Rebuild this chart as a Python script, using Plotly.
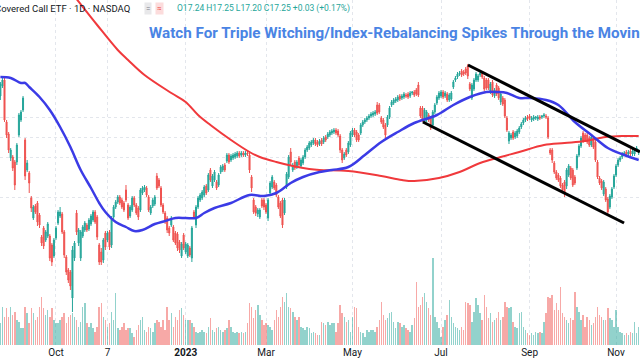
import plotly.graph_objects as go

opens = [17.79, 17.89, 17.95, 17.53, 17.41, 17.17, 17.18, 17.13, 17.13, 17.40,
         17.55, 17.65, 17.35, 17.05, 17.02, 16.77, 16.57, 16.69, 16.72, 16.60,
         16.38, 16.47, 16.35, 16.39, 16.39, 16.30, 16.19, 16.37, 16.52, 16.59,
         16.61, 16.43, 16.18, 16.05, 16.03, 15.77, 16.17, 16.62, 16.32, 16.17,
         16.39, 16.45, 16.50, 16.46, 16.51, 16.55, 16.63, 16.58, 16.30, 16.23,
         16.15, 16.42, 16.35, 16.43, 16.30, 16.58, 16.68, 16.73, 16.78, 16.75,
         16.72, 16.85, 16.70, 16.59, 16.65, 16.77, 16.70, 16.67, 16.65, 16.82,
         16.85, 16.87, 16.78, 16.62, 16.69, 16.71, 16.99, 16.95, 16.87, 16.70,
         16.62, 16.57, 16.47, 16.50, 16.48, 16.42, 16.41, 16.33, 16.19, 16.40,
         16.23, 16.19, 16.27, 16.17, 16.63, 16.50, 16.68, 16.75, 16.77, 16.80,
         16.89, 16.85, 17.05, 16.89, 16.95, 16.93, 16.90, 17.03, 17.05, 17.10,
         17.14, 17.20, 17.15, 17.17, 17.18, 17.19, 17.22, 17.20, 17.22, 17.20,
         17.22, 17.20, 16.98, 16.75, 16.68, 16.61, 16.58, 16.75, 16.75, 16.70,
         16.57, 16.82, 16.88, 16.93, 16.90, 16.78, 16.72, 16.75, 16.62, 16.88,
         16.98, 17.23, 17.05, 17.13, 17.08, 17.17, 17.09, 17.12, 17.18, 17.25,
         17.27, 17.30, 17.32, 17.35, 17.33, 17.31, 17.35, 17.33, 17.38, 17.38,
         17.40, 17.42, 17.43, 17.45, 17.44, 17.39, 17.25, 17.17, 17.25, 17.23,
         17.30, 17.40, 17.45, 17.43, 17.40, 17.42, 17.50, 17.53, 17.55, 17.57,
         17.59, 17.60, 17.61, 17.70, 17.70, 17.57, 17.55, 17.50, 17.50, 17.58,
         17.70, 17.72, 17.74, 17.75, 17.79, 17.77, 17.78, 17.80, 17.81, 17.79,
         17.82, 17.83, 17.85, 17.90, 17.67, 17.67, 17.53, 17.55, 17.60, 17.57,
         17.50, 17.63, 17.72, 17.77, 17.79, 17.83, 17.79, 17.81, 17.75, 17.76,
         17.88, 17.95, 17.98, 18.01, 18.04, 18.03, 18.06, 18.09, 17.91, 17.77,
         17.86, 17.95, 17.95, 18.00, 18.02, 17.97, 17.95, 17.95, 17.83, 17.93,
         17.79, 17.90, 17.87, 17.73, 17.77, 17.75, 17.57, 17.34, 17.37, 17.43,
         17.38, 17.39, 17.43, 17.48, 17.52, 17.55, 17.58, 17.59, 17.55, 17.56,
         17.57, 17.56, 17.58, 17.58, 17.59, 17.59, 17.57, 17.25, 17.25, 17.12,
         17.03, 17.00, 16.97, 16.90, 16.93, 16.89, 17.00, 17.07, 17.05, 16.98,
         17.07, 17.20, 17.29, 17.42, 17.40, 17.40, 17.37, 17.30, 17.37, 17.33,
         17.13, 16.97, 16.94, 16.81, 16.86, 16.76, 16.68, 16.78, 16.88, 17.00,
         17.10, 17.15, 17.18, 17.21, 17.23, 17.21, 17.24, 17.21, 17.21, 17.25, 17.24]

closes = [17.91, 17.95, 17.55, 17.40, 17.25, 17.25, 17.07, 16.90, 17.30, 17.60,
          17.63, 17.77, 16.99, 17.12, 16.92, 16.67, 16.68, 16.63, 16.53, 16.50,
          16.32, 16.29, 16.43, 16.51, 16.17, 16.13, 16.35, 16.47, 16.63, 16.63,
          16.43, 16.20, 16.03, 15.95, 15.89, 16.25, 16.32, 16.43, 16.45, 16.43,
          16.48, 16.52, 16.45, 16.55, 16.59, 16.63, 16.53, 16.38, 16.13, 16.13,
          16.35, 16.28, 16.42, 16.28, 16.57, 16.68, 16.73, 16.78, 16.72, 16.68,
          16.65, 16.75, 16.57, 16.68, 16.77, 16.70, 16.62, 16.58, 16.85, 16.87,
          16.88, 16.80, 16.65, 16.68, 16.75, 16.78, 16.87, 16.89, 16.70, 16.63,
          16.53, 16.45, 16.42, 16.57, 16.35, 16.32, 16.27, 16.25, 16.31, 16.27,
          16.31, 16.30, 16.20, 16.47, 16.58, 16.68, 16.77, 16.80, 16.83, 16.88,
          16.82, 17.00, 16.95, 16.99, 17.03, 16.87, 17.00, 17.08, 17.09, 17.05,
          17.20, 17.13, 17.19, 17.20, 17.21, 17.22, 17.19, 17.22, 17.20, 17.22,
          17.21, 17.05, 16.87, 16.63, 16.62, 16.65, 16.65, 16.69, 16.68, 16.63,
          16.75, 16.92, 16.98, 16.87, 16.80, 16.68, 16.59, 16.50, 16.75, 17.01,
          17.18, 17.13, 17.10, 17.07, 17.13, 17.10, 17.15, 17.18, 17.25, 17.28,
          17.32, 17.33, 17.35, 17.31, 17.30, 17.34, 17.31, 17.37, 17.35, 17.41,
          17.43, 17.44, 17.45, 17.42, 17.40, 17.25, 17.15, 17.21, 17.20, 17.32,
          17.42, 17.45, 17.40, 17.35, 17.35, 17.50, 17.53, 17.55, 17.57, 17.59,
          17.61, 17.62, 17.63, 17.62, 17.63, 17.53, 17.48, 17.40, 17.58, 17.67,
          17.73, 17.75, 17.76, 17.78, 17.76, 17.79, 17.81, 17.79, 17.78, 17.82,
          17.83, 17.80, 17.81, 17.80, 17.59, 17.55, 17.65, 17.63, 17.55, 17.47,
          17.63, 17.70, 17.78, 17.82, 17.83, 17.78, 17.82, 17.75, 17.80, 17.82,
          17.93, 17.97, 18.01, 18.02, 18.00, 18.01, 18.02, 17.99, 17.86, 17.90,
          17.95, 18.01, 17.99, 18.02, 17.98, 17.86, 17.87, 17.87, 17.91, 17.80,
          17.85, 17.81, 17.77, 17.81, 17.71, 17.59, 17.45, 17.42, 17.40, 17.37,
          17.42, 17.44, 17.47, 17.51, 17.55, 17.57, 17.56, 17.57, 17.57, 17.58,
          17.58, 17.58, 17.57, 17.59, 17.60, 17.58, 17.38, 17.22, 17.15, 17.03,
          16.97, 16.95, 16.89, 16.85, 16.81, 17.05, 17.09, 16.97, 16.90, 16.92,
          17.19, 17.29, 17.37, 17.34, 17.35, 17.33, 17.30, 17.38, 17.28, 17.15,
          16.98, 16.92, 16.87, 16.93, 16.75, 16.63, 16.79, 16.86, 16.99, 17.09,
          17.15, 17.17, 17.21, 17.22, 17.20, 17.23, 17.21, 17.24, 17.25, 17.27, 17.25]

highs = [17.93, 17.97, 17.97, 17.55, 17.43, 17.27, 17.20, 17.15, 17.32, 17.62,
         17.65, 17.79, 17.37, 17.15, 17.04, 16.79, 16.70, 16.71, 16.74, 16.62,
         16.40, 16.49, 16.45, 16.53, 16.41, 16.32, 16.37, 16.49, 16.65, 16.68,
         16.63, 16.45, 16.20, 16.07, 16.05, 16.29, 16.34, 16.65, 16.47, 16.45,
         16.50, 16.54, 16.52, 16.57, 16.61, 16.65, 16.65, 16.60, 16.32, 16.27,
         16.37, 16.44, 16.44, 16.45, 16.59, 16.70, 16.75, 16.80, 16.80, 16.77,
         16.74, 16.90, 16.72, 16.70, 16.79, 16.79, 16.72, 16.69, 16.87, 16.89,
         16.90, 16.89, 16.80, 16.70, 16.77, 16.80, 17.02, 16.97, 16.89, 16.72,
         16.64, 16.59, 16.49, 16.59, 16.50, 16.44, 16.43, 16.35, 16.33, 16.42,
         16.33, 16.32, 16.29, 16.49, 16.65, 16.70, 16.79, 16.82, 16.85, 16.90,
         16.91, 17.02, 17.07, 17.01, 17.05, 16.95, 17.02, 17.10, 17.11, 17.12,
         17.22, 17.22, 17.21, 17.22, 17.23, 17.24, 17.24, 17.24, 17.24, 17.24,
         17.24, 17.22, 17.00, 16.77, 16.70, 16.67, 16.67, 16.77, 16.77, 16.72,
         16.77, 16.94, 17.00, 16.95, 16.92, 16.80, 16.74, 16.77, 16.77, 17.03,
         17.20, 17.27, 17.12, 17.15, 17.15, 17.19, 17.17, 17.20, 17.27, 17.30,
         17.34, 17.35, 17.37, 17.37, 17.35, 17.36, 17.37, 17.39, 17.40, 17.43,
         17.45, 17.46, 17.47, 17.47, 17.46, 17.41, 17.27, 17.23, 17.27, 17.34,
         17.44, 17.47, 17.47, 17.45, 17.42, 17.52, 17.55, 17.57, 17.59, 17.61,
         17.63, 17.64, 17.65, 17.73, 17.72, 17.59, 17.57, 17.52, 17.60, 17.69,
         17.75, 17.77, 17.78, 17.80, 17.81, 17.81, 17.83, 17.82, 17.83, 17.84,
         17.84, 17.85, 17.87, 17.93, 17.69, 17.69, 17.67, 17.65, 17.62, 17.59,
         17.65, 17.72, 17.80, 17.84, 17.85, 17.85, 17.84, 17.83, 17.82, 17.84,
         17.95, 17.99, 18.03, 18.04, 18.06, 18.05, 18.08, 18.11, 17.93, 17.92,
         17.97, 18.03, 18.01, 18.04, 18.04, 17.99, 17.97, 17.97, 17.93, 17.95,
         17.87, 17.92, 17.89, 17.83, 17.79, 17.77, 17.59, 17.44, 17.42, 17.45,
         17.44, 17.46, 17.49, 17.53, 17.57, 17.59, 17.60, 17.61, 17.59, 17.60,
         17.59, 17.60, 17.60, 17.60, 17.62, 17.61, 17.59, 17.27, 17.27, 17.14,
         17.05, 17.02, 16.99, 16.92, 16.95, 17.07, 17.11, 17.09, 17.07, 17.00,
         17.21, 17.31, 17.39, 17.44, 17.42, 17.42, 17.39, 17.40, 17.39, 17.35,
         17.15, 16.99, 16.96, 16.95, 16.88, 16.78, 16.81, 16.88, 17.01, 17.11,
         17.17, 17.19, 17.23, 17.24, 17.25, 17.25, 17.26, 17.26, 17.27, 17.29, 17.25]

lows = [17.75, 17.87, 17.53, 17.37, 17.22, 17.14, 17.04, 16.85, 17.10, 17.38,
        17.53, 17.63, 16.95, 17.03, 16.82, 16.63, 16.55, 16.61, 16.49, 16.47,
        16.29, 16.26, 16.33, 16.37, 16.14, 16.09, 16.17, 16.35, 16.50, 16.57,
        16.41, 16.17, 16.00, 15.92, 15.85, 15.63, 16.14, 16.40, 16.29, 16.14,
        16.37, 16.43, 16.43, 16.44, 16.49, 16.53, 16.51, 16.35, 16.10, 16.10,
        16.12, 16.25, 16.33, 16.25, 16.27, 16.56, 16.66, 16.71, 16.70, 16.66,
        16.63, 16.73, 16.55, 16.57, 16.63, 16.68, 16.60, 16.55, 16.63, 16.80,
        16.83, 16.78, 16.63, 16.60, 16.67, 16.69, 16.85, 16.87, 16.68, 16.61,
        16.51, 16.42, 16.39, 16.48, 16.33, 16.30, 16.24, 16.22, 16.17, 16.25,
        16.21, 16.17, 16.18, 16.13, 16.56, 16.47, 16.66, 16.73, 16.75, 16.78,
        16.80, 16.83, 16.93, 16.87, 16.93, 16.85, 16.88, 17.01, 17.03, 17.03,
        17.12, 17.11, 17.13, 17.15, 17.16, 17.17, 17.17, 17.18, 17.18, 17.18,
        17.19, 17.02, 16.83, 16.61, 16.59, 16.58, 16.56, 16.67, 16.65, 16.61,
        16.54, 16.80, 16.86, 16.85, 16.78, 16.66, 16.57, 16.47, 16.60, 16.86,
        16.96, 17.10, 17.03, 17.05, 17.06, 17.08, 17.07, 17.10, 17.16, 17.23,
        17.25, 17.28, 17.30, 17.29, 17.28, 17.29, 17.29, 17.31, 17.33, 17.36,
        17.38, 17.40, 17.41, 17.40, 17.38, 17.22, 17.12, 17.15, 17.18, 17.21,
        17.28, 17.38, 17.38, 17.33, 17.33, 17.40, 17.48, 17.51, 17.53, 17.55,
        17.57, 17.58, 17.59, 17.60, 17.61, 17.51, 17.46, 17.37, 17.48, 17.56,
        17.68, 17.70, 17.72, 17.73, 17.74, 17.75, 17.76, 17.77, 17.76, 17.77,
        17.80, 17.78, 17.79, 17.78, 17.57, 17.53, 17.51, 17.53, 17.53, 17.45,
        17.48, 17.61, 17.70, 17.75, 17.77, 17.76, 17.77, 17.73, 17.73, 17.74,
        17.86, 17.93, 17.96, 17.99, 17.98, 17.99, 18.00, 17.96, 17.84, 17.75,
        17.84, 17.93, 17.93, 17.98, 17.96, 17.84, 17.85, 17.85, 17.81, 17.78,
        17.77, 17.79, 17.75, 17.70, 17.69, 17.57, 17.43, 17.31, 17.35, 17.35,
        17.36, 17.37, 17.41, 17.46, 17.50, 17.53, 17.54, 17.55, 17.53, 17.54,
        17.55, 17.54, 17.55, 17.56, 17.57, 17.56, 17.36, 17.20, 17.12, 17.01,
        16.95, 16.93, 16.87, 16.83, 16.78, 16.86, 16.98, 16.95, 16.88, 16.90,
        17.05, 17.18, 17.27, 17.32, 17.33, 17.31, 17.28, 17.28, 17.26, 17.13,
        16.96, 16.90, 16.85, 16.79, 16.73, 16.61, 16.66, 16.76, 16.86, 16.98,
        17.08, 17.13, 17.16, 17.19, 17.18, 17.19, 17.19, 17.19, 17.19, 17.23, 17.20]

volumes = [2.2, 3.8, 2.8, 3.7, 2.8, 3.8, 3.0, 3.3, 2.5, 2.3,
           1.7, 1.7, 3.8, 3.2, 2.2, 3.7, 3.2, 2.5, 2.8, 3.8,
           4.8, 3.7, 3.0, 3.5, 2.8, 3.7, 2.5, 2.2, 2.2, 2.5,
           2.8, 3.2, 2.2, 2.8, 3.0, 3.2, 2.8, 2.5, 1.8, 2.3,
           3.8, 4.2, 2.2, 1.8, 2.2, 1.7, 1.3, 1.8, 3.8, 4.2,
           2.8, 2.5, 1.8, 2.2, 3.3, 2.5, 5.2, 1.7, 1.5, 1.8,
           2.2, 1.5, 1.7, 1.7, 1.2, 0.8, 1.5, 2.0, 2.5, 2.8,
           1.5, 1.3, 1.8, 1.7, 1.3, 2.2, 2.5, 2.3, 1.8, 2.5,
           1.5, 3.8, 2.5, 3.2, 1.8, 2.8, 2.5, 3.5, 3.7, 3.0,
           2.5, 2.5, 2.5, 2.2, 1.8, 1.3, 1.2, 1.3, 1.5, 1.3,
           1.2, 1.8, 2.7, 1.5, 1.3, 1.7, 1.8, 1.5, 1.3, 1.5,
           1.7, 2.5, 1.8, 1.3, 1.2, 1.3, 1.2, 1.3, 1.2, 1.3,
           2.2, 4.2, 3.8, 2.7, 3.5, 4.0, 3.0, 2.5, 2.0, 2.2,
           2.0, 1.8, 1.5, 2.5, 3.5, 2.8, 3.8, 4.8, 4.3, 5.2,
           3.8, 3.7, 3.3, 2.8, 2.5, 2.8, 1.8, 1.7, 1.5, 1.8,
           1.7, 1.2, 1.3, 1.2, 1.0, 1.0, 2.3, 2.2, 2.0, 2.3,
           2.0, 2.2, 2.2, 1.3, 2.2, 4.0, 3.2, 2.8, 2.3, 2.5,
           1.3, 2.8, 3.8, 3.7, 1.8, 1.3, 1.2, 0.8, 1.5, 1.3,
           1.5, 1.5, 1.3, 1.8, 2.5, 4.3, 3.0, 2.5, 2.7, 3.2,
           3.3, 2.3, 1.7, 2.3, 2.2, 1.8, 2.0, 1.7, 1.5, 1.3,
           2.0, 2.7, 6.3, 3.8, 4.0, 4.8, 5.2, 4.3, 3.7, 3.0,
           8.7, 2.8, 2.3, 1.7, 0.8, 1.8, 2.5, 3.0, 4.5, 2.8,
           2.2, 1.8, 1.7, 1.5, 1.8, 1.5, 4.3, 4.2, 4.0, 2.3,
           3.3, 4.7, 4.0, 3.2, 2.5, 5.0, 3.8, 2.7, 3.2, 2.3,
           2.5, 2.7, 3.3, 2.5, 2.8, 4.3, 3.8, 3.7, 3.8, 2.3,
           1.8, 1.7, 3.2, 3.3, 1.8, 1.5, 1.2, 1.0, 1.2, 1.0,
           1.3, 1.2, 1.3, 1.2, 2.3, 3.2, 4.8, 4.7, 5.0, 3.5,
           4.2, 3.5, 5.8, 3.2, 2.8, 2.5, 2.2, 2.7, 2.5, 5.3,
           3.8, 3.3, 2.5, 3.0, 1.8, 2.8, 2.5, 2.0, 2.2, 2.8,
           3.8, 3.0, 2.8, 2.5, 2.5, 3.7, 2.7, 2.5, 1.8, 3.5,
           1.8, 1.3, 1.2, 1.0, 1.2, 1.0, 1.3, 1.2, 2.3, 1.2, 1.8]

ma50_day = [0, 5, 10, 12, 14, 19, 24, 29, 34, 39, 44, 48, 51, 56, 61, 65, 69, 75, 80, 85,
            90, 95, 99, 104, 112, 121, 128, 134, 141, 147, 155, 161, 169, 177, 185, 193,
            201, 212, 220, 228, 236, 241, 246, 252, 257, 265, 271, 279, 287, 295, 303, 310]
ma50_val = [17.98, 17.97, 17.92, 17.92, 17.88, 17.78, 17.65, 17.48, 17.28, 17.05, 16.87,
            16.72, 16.63, 16.53, 16.48, 16.44, 16.45, 16.51, 16.54, 16.57, 16.57, 16.57,
            16.62, 16.67, 16.72, 16.80, 16.79, 16.82, 16.92, 16.98, 17.03, 17.05, 17.08,
            17.20, 17.33, 17.43, 17.52, 17.60, 17.70, 17.78, 17.83, 17.83, 17.82, 17.77,
            17.77, 17.75, 17.70, 17.53, 17.40, 17.27, 17.20, 17.15]

ma200_day = [37, 47, 57, 62, 70, 83, 90, 96, 102, 112, 121, 126, 134, 142, 150, 155,
             169, 185, 195, 201, 213, 223, 233, 243, 252, 264, 274, 284, 294, 303, 310]
ma200_val = [18.76, 18.50, 18.25, 18.15, 18.00, 17.82, 17.73, 17.60, 17.50, 17.35, 17.23,
             17.18, 17.13, 17.09, 17.06, 17.05, 17.04, 16.99, 16.95, 16.94, 16.97, 17.03,
             17.12, 17.18, 17.23, 17.30, 17.32, 17.34, 17.38, 17.39, 17.39]

upper_day = [227.1, 310.6]
upper_val = [18.10, 17.23]
lower_day = [205.2, 302.9]
lower_val = [17.53, 16.52]

tick_days = [27, 52, 90, 129, 171, 214, 257, 299]
tick_text = ["Oct", "7", "<b>2023</b>", "Mar", "May", "Jul", "Sep", "Nov"]
grid_prices = [17.58, 17.38, 17.18, 16.78]

UP, DOWN = "#26a69a", "#ef5350"
days = list(range(len(closes)))
vol_colors = ["rgba(38,166,154,0.5)" if c >= o else "rgba(239,83,80,0.5)"
              for o, c in zip(opens, closes)]

fig = go.Figure()
fig.add_trace(go.Bar(x=days, y=volumes, marker_color=vol_colors, marker_line_width=0,
                     width=0.72, yaxis="y", showlegend=False))
fig.add_trace(go.Candlestick(x=days, open=opens, high=highs, low=lows, close=closes,
                             yaxis="y2", showlegend=False, whiskerwidth=0,
                             increasing=dict(line=dict(color=UP, width=1), fillcolor=UP),
                             decreasing=dict(line=dict(color=DOWN, width=1), fillcolor=DOWN)))
fig.add_trace(go.Scatter(x=ma200_day, y=ma200_val, mode="lines", yaxis="y2", showlegend=False,
                         line=dict(color="#f0393c", width=2, shape="spline")))
fig.add_trace(go.Scatter(x=ma50_day, y=ma50_val, mode="lines", yaxis="y2", showlegend=False,
                         line=dict(color="#3b3be6", width=2.5, shape="spline")))
for xs, ys in ((upper_day, upper_val), (lower_day, lower_val)):
    fig.add_trace(go.Scatter(x=xs, y=ys, mode="lines", yaxis="y2", showlegend=False,
                             line=dict(color="#000000", width=3)))

H_PLOT = 345.0
def py(pix):
    return (H_PLOT - pix) / H_PLOT

anns = [
    dict(text="Covered Call ETF · 1D · NASDAQ", x=132 / 640, y=py(9), xanchor="right",
         font=dict(size=9.5, color="#131722", family="Roboto")),
    dict(text="=", x=147.5 / 640, y=py(9), xanchor="center",
         font=dict(size=8, color="#787b86", family="Roboto"), bgcolor="#e8e8ea", borderpad=1),
    dict(text="≈", x=159 / 640, y=py(9), xanchor="center",
         font=dict(size=8, color="#ef5350", family="Roboto"), bgcolor="#fcdcdc", borderpad=1),
    dict(text="O17.24 H17.25 L17.20 C17.25 +0.03 (+0.17%)", x=175 / 640, y=py(9),
         xanchor="left", font=dict(size=8.5, color="#26a69a", family="Roboto")),
    dict(text="<b>Watch For Triple Witching/Index-Rebalancing Spikes Through the Moving Averages</b>",
         x=147 / 640, y=py(33), xanchor="left",
         font=dict(size=15.2, color="#4a84e4", family="Roboto")),
]
for a in anns:
    a.update(xref="paper", yref="paper", yanchor="middle", showarrow=False)

fig.update_layout(
    width=640, height=360,
    margin=dict(l=0, r=0, t=0, b=15),
    paper_bgcolor="white", plot_bgcolor="white",
    annotations=anns,
    bargap=0,
    xaxis=dict(range=[-0.19, 310.64], tickmode="array", tickvals=tick_days, ticktext=tick_text,
               showgrid=True, gridcolor="#e3e6ec", griddash="dot", gridwidth=1,
               zeroline=False, showline=False, ticks="", ticklen=0,
               tickfont=dict(size=10, color="#131722", family="Roboto"),
               rangeslider=dict(visible=False)),
    yaxis=dict(range=[0, 34.5], showgrid=False, zeroline=False, showticklabels=False,
               fixedrange=True),
    yaxis2=dict(range=[15.30, 18.75], overlaying="y", side="right", tickmode="array",
                tickvals=grid_prices, showticklabels=False, showgrid=True,
                gridcolor="#e3e6ec", griddash="dot", zeroline=False),
    showlegend=False,
)

fig.write_html("out.html", config={"displayModeBar": False},
               post_script="document.body.style.margin='0';document.body.style.overflow='hidden';")
